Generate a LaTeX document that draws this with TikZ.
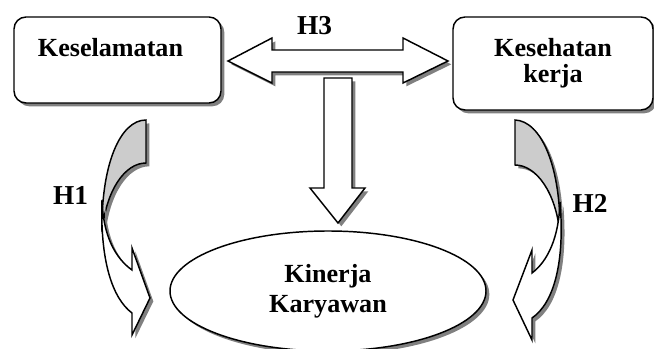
\documentclass[tikz,border=0pt]{standalone}
\usepackage{fontspec}
\setmainfont{Liberation Serif}
\usetikzlibrary{
    shapes.geometric,
    shadows
}
\tikzset{
    sh/.style={drop shadow={shadow xshift=2.5pt, shadow yshift=-2.5pt, fill=black!50, opacity=1}},
    box/.style={draw, line width=1.1pt, rounded corners=9pt, fill=white, sh},
    blk/.style={draw, line width=1.1pt, fill=white, sh},
    back/.style={draw, line width=1.1pt, fill=black!20, sh},
    txt/.style={font=\fontsize{19.6}{19.5}\selectfont\bfseries, align=center},
    hyp/.style={font=\fontsize{20.5}{24}\selectfont\bfseries, anchor=base}
}
\begin{document}
\begin{tikzpicture}[x=0.75pt, y=-0.75pt]
        \useasboundingbox (0, 0) rectangle (654, 349);
        \node[box, minimum width=155.25pt, minimum height=64.5pt] (kes) at (117.5, 60) {};
        \node[txt, anchor=base] (kesT) at (110.5, 57) {Keselamatan};
        \node[box, txt, minimum width=150pt, minimum height=69.75pt] (kk) at (553, 63.5) {Kesehatan\\kerja};
        \draw[back] (146, 120) .. controls (120, 120) and (101, 165) .. (102, 232)
            .. controls (106, 190) and (125, 163) .. (146, 163) -- cycle;
        \draw[blk] (102, 200) .. controls (100, 260) and (112, 298) .. (132, 313)
            -- (132, 335) -- (150, 298) -- (132, 248) -- (132, 270)
            .. controls (115, 258) and (103, 235) .. (102, 200) -- cycle;
        \draw[back] (515, 120) .. controls (541, 121) and (561, 166) .. (560, 234)
            .. controls (556, 192) and (536, 165) .. (515, 165) -- cycle;
        \draw[blk] (560, 202) .. controls (565, 262) and (554, 303) .. (532, 318)
            -- (532, 340) -- (513, 300) -- (532, 250) -- (532, 273)
            .. controls (548, 261) and (559, 237) .. (560, 202) -- cycle;
        \draw[blk] (228, 61) -- (272, 38) -- (272, 50) -- (403, 50) -- (403, 38) -- (448, 61)
            -- (403, 83) -- (403, 72) -- (272, 72) -- (272, 83) -- cycle;
        \draw[blk] (324, 78) -- (352, 78) -- (352, 188) -- (365, 188) -- (338, 223)
            -- (310, 188) -- (324, 188) -- cycle;
        \node[draw, ellipse, line width=1.1pt, fill=white, sh, txt, font=\fontsize{19.6}{22.5}\selectfont\bfseries,
            minimum width=237pt, minimum height=90pt] (kin) at (328, 291) {Kinerja\\Karyawan};
        \node[hyp] (h3) at (314.5, 35) {H3};
        \node[hyp] (h1) at (70.5, 205) {H1};
        \node[hyp] (h2) at (590, 213) {H2};
    \end{tikzpicture}
\end{document}
